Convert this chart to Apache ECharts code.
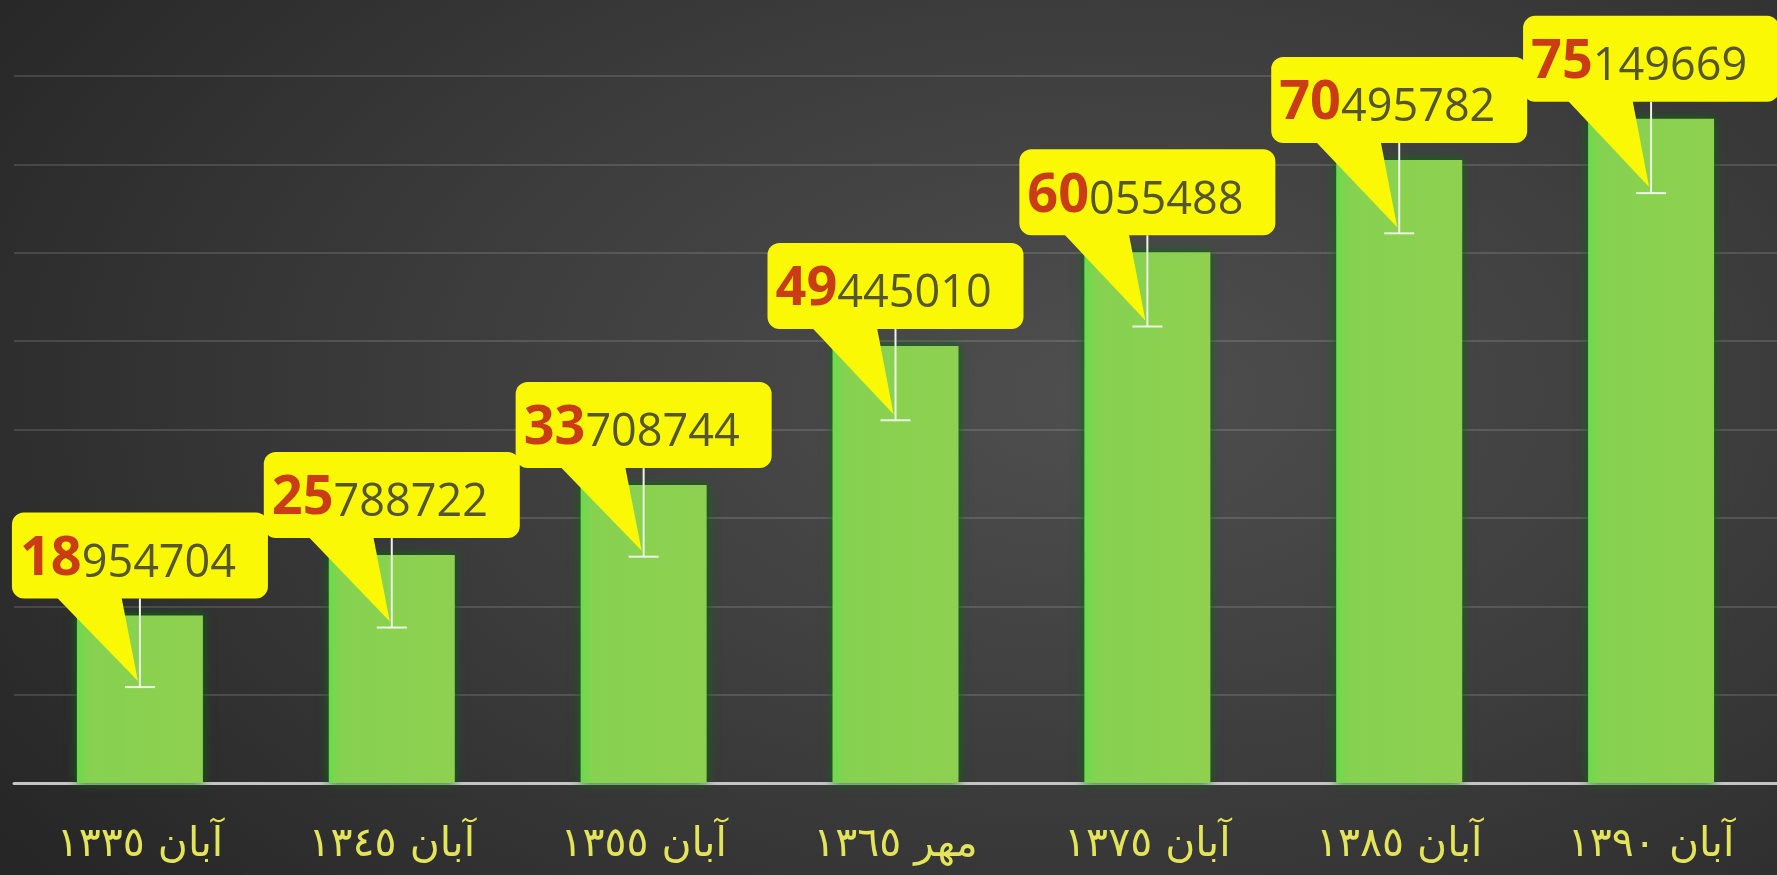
<!DOCTYPE html>
<html>
<head>
<meta charset="utf-8">
<script src="https://cdn.jsdelivr.net/npm/echarts@6/dist/echarts.min.js"></script>
<style>
html,body{margin:0;padding:0;width:1777px;height:875px;overflow:hidden;}
#chart{width:1777px;height:875px;background:radial-gradient(ellipse 75% 90% at 62% 45%, #4f4f4f 0%, #3c3c3c 50%, #262626 100%);}
</style>
</head>
<body>
<div id="chart"></div>
<script>
const categories = ['آبان ١٣٣٥', 'آبان ١٣٤٥', 'آبان ١٣٥٥', 'مهر ١٣٦٥', 'آبان ١٣٧٥', 'آبان ١٣٨٥', 'آبان ١٣٩٠'];
const population = [18954704, 25788722, 33708744, 49445010, 60055488, 70495782, 75149669];
const errorMinus = [8100000, 8200000, 8100000, 8400000, 8400000, 8300000, 8400000];
const yTicks = {min: 0, max: 80000000, interval: 10000000};

const YELLOW = '#FAF805';
const chart = echarts.init(document.getElementById('chart'));

const calloutData = population.map((v, i) => [i, v, errorMinus[i]]);

chart.setOption({
  backgroundColor: 'transparent',
  animation: false,
  grid: {left: 14, right: 0, top: 76, bottom: 92, containLabel: false},
  xAxis: {
    type: 'category',
    data: categories,
    axisTick: {show: false},
    axisLine: {show: true, lineStyle: {color: '#c4c4c4', width: 3}},
    axisLabel: {
      color: '#E4E45A',
      fontFamily: 'DejaVu Sans',
      fontSize: 41,
      margin: 42
    }
  },
  yAxis: {
    type: 'value',
    min: yTicks.min,
    max: yTicks.max,
    interval: yTicks.interval,
    axisLabel: {show: false},
    axisLine: {show: false},
    axisTick: {show: false},
    splitLine: {show: true, lineStyle: {color: 'rgba(255,255,255,0.13)', width: 2}}
  },
  series: [
    {
      type: 'bar',
      data: population,
      barWidth: 126,
      itemStyle: {
        color: {
          type: 'linear', x: 0, y: 0, x2: 1, y2: 0,
          colorStops: [
            {offset: 0, color: '#6ADB4A'},
            {offset: 0.1, color: '#86D250'},
            {offset: 1, color: '#8FD050'}
          ]
        },
        shadowColor: '#0d6a12',
        shadowBlur: 10
      }
    },
    {
      type: 'custom',
      data: calloutData,
      encode: {x: 0, y: 1},
      clip: false,
      z: 5,
      renderItem: function (params, api) {
        const i = api.value(0);
        const v = api.value(1);
        const e = api.value(2);
        const top = api.coord([i, v]);
        const cap = api.coord([i, v - e]);
        const cx = top[0];
        const boxW = 256, boxH = 86, gap = 17;
        const boxBottom = top[1] - gap;
        const boxTop = boxBottom - boxH;
        const boxLeft = cx - boxW / 2;
        const s = String(population[i]);
        return {
          type: 'group',
          children: [
            {type: 'polygon', shape: {points: [[cx - 86, boxBottom - 4], [cx - 19, boxBottom - 4], [cx - 2, cap[1] - 6]]}, style: {fill: YELLOW}},
            {type: 'rect', shape: {x: boxLeft, y: boxTop, width: boxW, height: boxH, r: 12}, style: {fill: YELLOW}},
            {type: 'line', shape: {x1: cx, y1: boxBottom, x2: cx, y2: cap[1]}, style: {stroke: '#eef4e6', lineWidth: 2}},
            {type: 'line', shape: {x1: cx - 15, y1: cap[1], x2: cx + 15, y2: cap[1]}, style: {stroke: '#eef4e6', lineWidth: 2}},
            {
              type: 'text', x: boxLeft + 8, y: boxTop + boxH / 2 + 1,
              style: {
                text: '{a|' + s.slice(0, 2) + '}{b|' + s.slice(2) + '}',
                align: 'left', verticalAlign: 'middle',
                rich: {
                  a: {fontFamily: 'Open Sans', fontWeight: 'bold', fontSize: 54, fill: '#C93C14', color: '#C93C14', verticalAlign: 'bottom', lineHeight: 60},
                  b: {fontFamily: 'Open Sans', fontSize: 45, fill: '#55552f', color: '#55552f', verticalAlign: 'bottom', lineHeight: 60}
                }
              }
            }
          ]
        };
      }
    }
  ]
});
</script>
</body>
</html>
